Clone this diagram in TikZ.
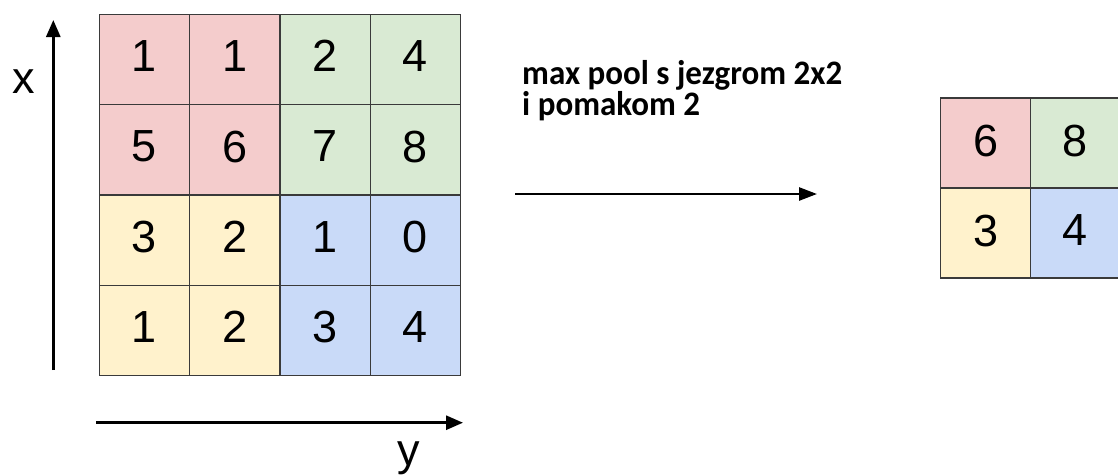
\documentclass[tikz,border=0pt]{standalone}
\usepackage{fontspec}
\setmainfont{Liberation Sans}
\newfontfamily\labelfont{Carlito}
\usetikzlibrary{arrows.meta}
\definecolor{cred}{HTML}{F4CCCC}
\definecolor{cgreen}{HTML}{D9EAD3}
\definecolor{cyellow}{HTML}{FFF2CC}
\definecolor{cblue}{HTML}{C9DAF8}
\definecolor{gridline}{HTML}{3A3A3A}
\tikzset{
  cell/.style={draw=gridline, line width=1.3pt, minimum width=90.3pt, minimum height=90.3pt,
    inner sep=0pt, outer sep=0pt, text depth=7pt, font=\fontsize{45}{45}\selectfont, text=black},
  cellsmall/.style={cell, minimum width=89.5pt, minimum height=90pt, text depth=5pt},
  axis/.style={line width=2.8pt, -{Triangle[length=17pt,width=14pt]}},
  mainarrow/.style={line width=2.6pt, -{Triangle[length=18pt,width=13pt]}},
  axislabel/.style={font=\fontsize{45}{45}\selectfont, inner sep=0pt},
  caption/.style={font=\labelfont\bfseries\fontsize{33}{33}\selectfont, inner sep=0pt, yscale=1.04}
}
\begin{document}
\begin{tikzpicture}[x=1pt,y=-1pt]
\useasboundingbox (0,0) rectangle (1118,474);
\clip (0,0) rectangle (1118,474);
% input grid
\node[cell, fill=cred]    (a11) at (144.5,59.5)  {1};
\node[cell, fill=cred]    (a12) at (234.8,59.5)  {1};
\node[cell, fill=cgreen]  (a13) at (325.1,59.5)  {2};
\node[cell, fill=cgreen]  (a14) at (415.4,59.5)  {4};
\node[cell, fill=cred]    (a21) at (144.5,149.8) {5};
\node[cell, fill=cred]    (a22) at (234.8,149.8) {6};
\node[cell, fill=cgreen]  (a23) at (325.1,149.8) {7};
\node[cell, fill=cgreen]  (a24) at (415.4,149.8) {8};
\node[cell, fill=cyellow] (a31) at (144.5,240.1) {3};
\node[cell, fill=cyellow] (a32) at (234.8,240.1) {2};
\node[cell, fill=cblue]   (a33) at (325.1,240.1) {1};
\node[cell, fill=cblue]   (a34) at (415.4,240.1) {0};
\node[cell, fill=cyellow] (a41) at (144.5,330.4) {1};
\node[cell, fill=cyellow] (a42) at (234.8,330.4) {2};
\node[cell, fill=cblue]   (a43) at (325.1,330.4) {3};
\node[cell, fill=cblue]   (a44) at (415.4,330.4) {4};
% axes
\coordinate (xs) at (53.3,370);
\coordinate (xe) at (53.3,20);
\draw[axis] (xs) -- (xe);
\node[axislabel] (xl) at (24,82) {x};
\coordinate (ys) at (96,422.7);
\coordinate (ye) at (463,422.7);
\draw[axis] (ys) -- (ye);
\node[axislabel, anchor=base] (yl) at (409,465) {y};
% caption and arrow
\node[caption, anchor=base west] (t1) at (522,84) {max pool s jezgrom 2x2};
\node[caption, anchor=base west] (t2) at (522,115.5) {i pomakom 2};
\coordinate (ms) at (515,194);
\coordinate (me) at (817,194);
\draw[mainarrow] (ms) -- (me);
% output grid
\node[cellsmall, fill=cred]    (b11) at (985.5,143) {6};
\node[cellsmall, fill=cgreen]  (b12) at (1075,143)  {8};
\node[cellsmall, fill=cyellow] (b21) at (985.5,233) {3};
\node[cellsmall, fill=cblue]   (b22) at (1075,233)  {4};
\end{tikzpicture}
\end{document}
